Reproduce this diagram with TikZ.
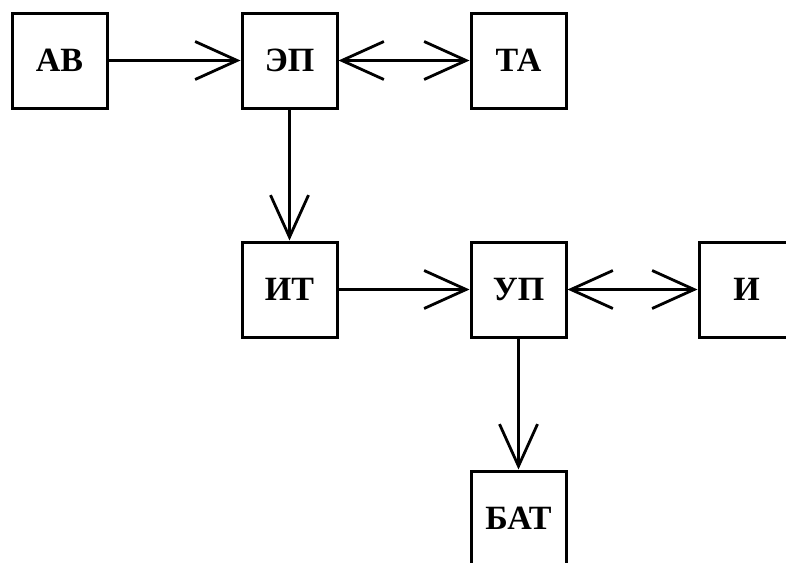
\documentclass[tikz,border=0pt]{standalone}
\usepackage{fontspec}
\setmainfont{Liberation Serif}
\usetikzlibrary{arrows.meta}
\tikzset{
  blk/.style={draw, line width=3pt, minimum width=95pt, minimum height=95pt, inner sep=0pt,
    font=\fontsize{34}{40}\selectfont\bfseries, fill=white},
  tip/.style={Straight Barb[length=42pt,width=38pt,line width=2.8pt]},
  conn/.style={line width=2.8pt, -{Straight Barb[length=42pt,width=38pt,line width=2.8pt]}},
  bconn/.style={line width=2.8pt, {Straight Barb[length=42pt,width=38pt,line width=2.8pt]}-{Straight Barb[length=42pt,width=38pt,line width=2.8pt]}}
}
\begin{document}
\begin{tikzpicture}[x=1pt,y=-1pt]
\useasboundingbox (0,0) rectangle (786,562);
\begin{scope}
\clip (0,0) rectangle (786,562);
\node[blk] (ab) at (59.5,60.5) {АВ};
\node[blk] (ep) at (289.5,60.5) {ЭП};
\node[blk] (ta) at (518.5,60.5) {ТА};
\node[blk] (it) at (289.5,289.5) {ИТ};
\node[blk] (up) at (518.5,289.5) {УП};
\node[blk] (i) at (746.5,289.5) {И};
\node[blk] (bat) at (518.5,518.5) {БАТ};
\draw[conn] (ab) -- (ep);
\draw[bconn] (ep) -- (ta);
\draw[conn] (ep) -- (it);
\draw[conn] (it) -- (up);
\draw[bconn] (up) -- (i);
\draw[conn] (up) -- (bat);
\end{scope}
\end{tikzpicture}
\end{document}
